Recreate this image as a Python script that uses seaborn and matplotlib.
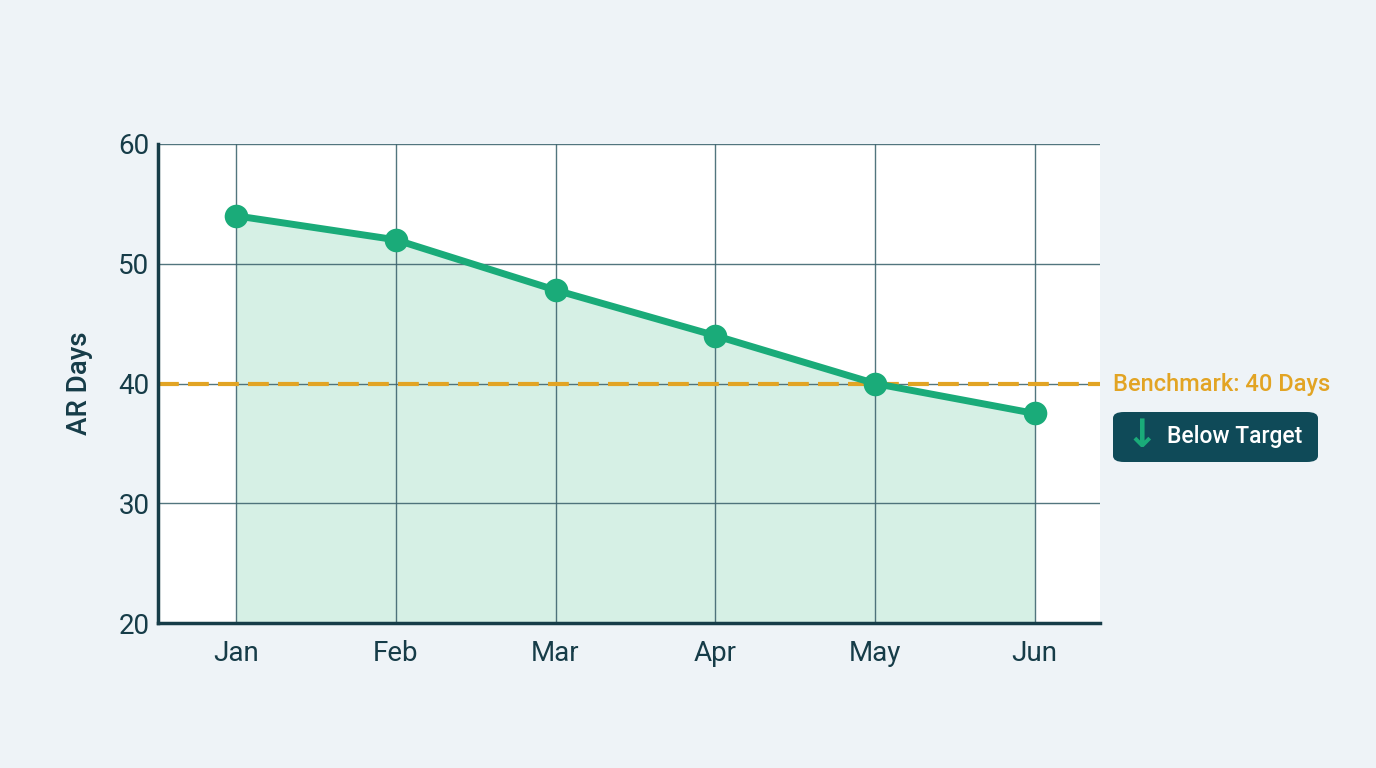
import matplotlib
matplotlib.use("Agg")
import matplotlib.pyplot as plt
import seaborn as sns
import pandas as pd
from matplotlib.patches import FancyBboxPatch

# Data
months = ["Jan", "Feb", "Mar", "Apr", "May", "Jun"]
arDays = [54, 52, 47.8, 44, 40, 37.5]
benchmark = 40
yTicks = [20, 30, 40, 50, 60]

bgColor = "#eef3f7"
textColor = "#163c48"
lineColor = "#1aab79"
fillColor = "#d6f0e5"
benchColor = "#e2a424"
gridColor = "#3f6670"
boxColor = "#0f4a58"

sns.set_theme(style="white")
plt.rcParams['font.family'] = ['Roboto', 'DejaVu Sans']

df = pd.DataFrame({"month": months, "days": arDays})
xPos = list(range(len(months)))

fig = plt.figure(figsize=(13.76, 7.68), dpi=100, facecolor=bgColor)
ax = fig.add_axes([0.1148, 0.1888, 0.6846, 0.6237])
ax.set_facecolor("white")

# Area under the line (grid drawn above it)
ax.fill_between(xPos, arDays, 20, color=fillColor, zorder=1, linewidth=0)

# Benchmark line
ax.axhline(benchmark, color=benchColor, linestyle=(0, (5, 2.2)), linewidth=3, zorder=3)

# Main series
sns.lineplot(data=df, x=xPos, y="days", ax=ax, color=lineColor, linewidth=5,
             marker="o", markersize=17, markeredgewidth=0, zorder=4)

ax.set_xlim(-0.49, 5.41)
ax.set_ylim(20, 60)
ax.set_xticks(xPos)
ax.set_xticklabels(months)
ax.set_yticks(yTicks)

ax.set_axisbelow(False)
ax.grid(True, color=gridColor, linewidth=1, alpha=0.9)

for side in ["top", "right"]:
    ax.spines[side].set_visible(False)
for side in ["left", "bottom"]:
    ax.spines[side].set_color(textColor)
    ax.spines[side].set_linewidth(2.5)
    ax.spines[side].set_zorder(5)

ax.tick_params(axis="both", length=0, labelsize=20, labelcolor=textColor)
ax.tick_params(axis="x", pad=12)
ax.tick_params(axis="y", pad=6)

ax.set_xlabel("")
ax.set_ylabel("AR Days", fontsize=20, color=textColor, fontweight="medium", labelpad=18)

# Benchmark label
fig.text(1113 / 1376, 1 - 384 / 768, "Benchmark: 40 Days", color=benchColor,
         fontsize=17, fontweight="medium", va="center", ha="left")

# Badge
box = FancyBboxPatch((1113 / 1376, 1 - 462 / 768), (1318 - 1113) / 1376, 50 / 768,
                     boxstyle="round,pad=0,rounding_size=0.008",
                     transform=fig.transFigure, facecolor=boxColor, edgecolor="none")
fig.patches.append(box)
fig.text(1142 / 1376, 1 - 436 / 768, "\u2193", color=lineColor, fontsize=28,
         fontweight="bold", va="center", ha="center", family=['DejaVu Sans'])
fig.text(1167 / 1376, 1 - 437 / 768, "Below Target", color="white",
         fontsize=16.5, fontweight="medium", va="center", ha="left")

fig.savefig("out.png", dpi=100, facecolor=bgColor)
